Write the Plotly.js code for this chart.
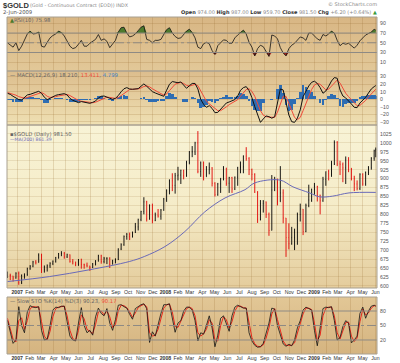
<!DOCTYPE html>
<html><head><meta charset="utf-8">
<script src="https://cdn.plot.ly/plotly-3.0.1.min.js"></script>
<style>
html,body{margin:0;padding:0;background:#fff;}
#wrap{position:relative;width:400px;height:363px;overflow:hidden;}
#bg{position:absolute;left:7px;top:17px;width:370px;height:337px;
background:linear-gradient(to bottom,#d8b684 0px,#e2c898 54px,#dcbd8d 54px,#efe0b3 108px,#f8f3d6 108px,#f5ecc8 190px,#e4cc9c 271px,#ffffff 271px,#ffffff 280px,#e2c796 280px,#d5b480 337px);}
#chart{position:absolute;left:0;top:0;width:400px;height:363px;}
</style></head>
<body><div id="wrap"><div id="bg"></div><div id="chart"></div></div>
<script>
// ---- weekly sample dates (Fridays) ----
const dates = [
'2006-12-08','2006-12-15','2006-12-22','2006-12-29',
'2007-01-05','2007-01-12','2007-01-19','2007-01-26','2007-02-02','2007-02-09','2007-02-16','2007-02-23','2007-03-02','2007-03-09','2007-03-16','2007-03-23','2007-03-30','2007-04-06','2007-04-13','2007-04-20','2007-04-27','2007-05-04','2007-05-11','2007-05-18','2007-05-25','2007-06-01','2007-06-08','2007-06-15','2007-06-22','2007-06-29','2007-07-06','2007-07-13','2007-07-20','2007-07-27','2007-08-03','2007-08-10','2007-08-17','2007-08-24','2007-08-31','2007-09-07','2007-09-14','2007-09-21','2007-09-28','2007-10-05','2007-10-12','2007-10-19','2007-10-26','2007-11-02','2007-11-09','2007-11-16','2007-11-23','2007-11-30','2007-12-07','2007-12-14','2007-12-21','2007-12-28',
'2008-01-04','2008-01-11','2008-01-18','2008-01-25','2008-02-01','2008-02-08','2008-02-15','2008-02-22','2008-02-29','2008-03-07','2008-03-14','2008-03-21','2008-03-28','2008-04-04','2008-04-11','2008-04-18','2008-04-25','2008-05-02','2008-05-09','2008-05-16','2008-05-23','2008-05-30','2008-06-06','2008-06-13','2008-06-20','2008-06-27','2008-07-04','2008-07-11','2008-07-18','2008-07-25','2008-08-01','2008-08-08','2008-08-15','2008-08-22','2008-08-29','2008-09-05','2008-09-12','2008-09-19','2008-09-26','2008-10-03','2008-10-10','2008-10-17','2008-10-24','2008-10-31','2008-11-07','2008-11-14','2008-11-21','2008-11-28','2008-12-05','2008-12-12','2008-12-19','2008-12-26',
'2009-01-02','2009-01-09','2009-01-16','2009-01-23','2009-01-30','2009-02-06','2009-02-13','2009-02-20','2009-02-27','2009-03-06','2009-03-13','2009-03-20','2009-03-27','2009-04-03','2009-04-10','2009-04-17','2009-04-24','2009-05-01','2009-05-08','2009-05-15','2009-05-22','2009-05-29','2009-06-02'];

// ---- $GOLD price (weekly close / high / low) ----
const firstOpen = 625;
const close = [629,628,622,635,609,629,631,648,655,667,
665,686,645,652,656,663,669,679,690,691,
681,687,668,664,659,673,660,658,656,651,
661,669,684,668,677,677,660,670,674,703,
715,738,744,738,749,765,785,808,835,787,
824,783,798,795,812,843,866,894,881,908,
910,923,908,945,975,975,1000,920,944,905,
925,930,887,855,885,898,930,887,903,871,
904,930,933,963,956,925,912,862,786,830,
835,800,755,868,888,835,860,790,735,718,
735,750,800,815,752,825,840,870,878,854,
838,898,920,913,941,1001,941,940,930,952,
925,900,885,872,912,885,917,930,957,978,
981.5];
const high = [640,634,628,638,640,632,635,651,658,670,
672,691,690,657,660,666,671,681,692,697,
695,690,688,675,668,675,676,662,665,656,
664,672,687,687,681,680,680,673,677,705,
719,741,748,749,752,776,788,810,848,838,
828,830,805,815,815,846,870,898,915,916,
933,925,925,950,977,991,1003,1033,948,948,
935,945,932,890,888,902,935,930,905,905,
906,933,948,965,988,960,928,915,865,840,
840,836,805,910,905,900,935,870,790,775,
765,760,805,830,815,830,883,872,888,880,
855,905,920,925,950,1007,1005,950,945,962,
960,930,908,895,915,915,920,935,960,981,
987];
const low = [622,616,612,620,603,605,620,628,645,652,
660,665,636,637,640,650,658,665,676,683,
676,678,665,660,655,656,648,648,652,642,
650,657,668,662,663,661,650,660,663,672,
700,712,729,728,735,748,755,781,800,780,
785,775,781,791,785,810,835,856,865,858,
895,885,898,905,940,960,966,915,905,895,
905,912,878,850,852,860,895,880,860,860,
868,880,915,915,950,910,895,860,776,783,
805,790,740,755,865,825,835,775,681,702,
715,700,715,780,742,750,820,835,855,836,
800,835,880,895,905,938,935,910,890,885,
918,895,865,867,868,880,880,910,925,950,
959.7];

// ---- MA(200) ----
const maDates = ['2006-12-08','2007-03-22','2007-06-28','2007-10-04','2007-11-10','2007-12-31','2008-02-18','2008-04-07','2008-05-27','2008-07-15','2008-08-08','2008-10-09','2008-11-10','2008-12-21','2009-01-15','2009-02-16','2009-03-28','2009-06-02'];
const maVals = [612,626,645,668,682,710,752,807,846,869,888,896,877,860,849,851,860,861.4];

// ---- RSI(10) ----
const rsi = [50,45,41,50,34,43,55,68,74,68,
69,72,43,41,51,60,65,68,74,71,
64,52,43,38,40,47,55,43,43,49,
53,57,67,55,58,53,40,47,55,72,
81,82,70,62,64,68,74,82,85,57,
55,50,55,55,57,68,77,81,70,63,
59,60,67,74,78,71,60,41,38,48,
51,48,34,26,44,49,56,55,49,49,
60,66,72,76,68,51,41,23,38,45,
42,32,22,66,64,58,40,29,23,38,
45,49,55,62,60,55,70,70,64,58,
55,67,64,68,74,70,55,44,49,47,
49,43,39,45,54,60,66,69,72,78,
75.98];

// ---- MACD(12,26,9) ----
const macd = [8,6.6,4,2.2,-0.4,-1,2.7,5.8,6.6,8.4,
9.3,10.6,8,2.7,-0.4,1.3,3.5,5.3,6.2,7,
7.5,5.8,1.3,-1.3,-3,-4.4,-3,-3.5,-4.4,-5.3,
-4,-2.2,1.8,4,4.4,3.1,1.3,0,1.3,4.9,
10,14,15.5,13.7,13.3,13.7,14.1,17.3,20.4,17.3,
13.3,10.2,8.4,7,5.3,4,12,20,23.5,23,
22,23,18,14.6,18,21,21,13.7,0,-6.6,
-10.6,-8.4,-12,-17.7,-17.3,-12.8,-9.3,-4.9,-3.5,-2.2,
-0.4,4.4,12,15.5,16.8,11.5,2.2,-9.7,-20.8,-30.5,
-26,-22,-23,-25,-23,-3,13.7,12.4,-4,-20.8,
-29.6,-30.5,-25,-14,3.5,11,17.7,22.5,24,21,
15.5,8,11,17.3,24.3,28.8,27.9,12.4,4.4,1.8,
-1.8,-6.2,-10.6,-11,-4.9,-0.9,2.7,8.4,13.7,16.8,
18.21];
const signal = [9,8,7,5.5,3.5,2,1.5,2.5,4,5.5,
7,8.5,9,7,4,2.5,2.5,3.5,4.5,5.5,
6.5,6.5,5,2.5,0.5,-1.5,-2.5,-3,-3.5,-4.3,
-4.5,-3.8,-2,0,2,2.8,2.5,1.6,1.2,2.3,
5,8.5,11.5,13,13.3,13.5,13.8,15,17,17.8,
16.5,14,11.5,9.5,7.5,5.8,7,11.5,16.5,20,
21.5,22.3,21,18.5,17.5,18.5,19.8,18,11.5,4,
-2.5,-6,-9,-12.5,-15,-15,-13,-10,-7,-5,
-3,-0.5,4,9,13,14,10.5,4,-5,-15,
-21,-23,-23.5,-24,-24,-17,-5,4,4,-5,
-16,-24,-27,-24,-15,-5,5,13,19,21,
20,15.5,12.5,13.5,17.5,22.5,25.5,21.5,14,8,
3.5,-1,-5.5,-8.5,-8,-5,-1.5,3,7.5,11.5,
13.411];

// ---- Slow STO %K(14) %D(3) ----
const stoK = [61,34,13,20,89,50,35,78,91,88,
87,89,40,20,22,50,82,88,87,90,
90,58,28,20,18,55,87,50,35,40,
30,68,86,75,70,85,55,40,62,92,
93,89,86,73,63,85,89,93,95,85,
15,37,28,52,75,93,93,95,66,36,
55,60,80,88,88,82,60,18,35,32,
50,70,45,6,30,65,70,55,38,70,
88,92,89,86,86,35,18,9,5,6,
13,32,55,86,84,50,30,12,7,11,
8,20,45,60,82,88,85,82,40,8,
45,85,88,87,89,60,20,25,48,60,
55,14,20,28,75,88,65,80,90,92,
90.23];
const stoD = [65,45,22,16,60,66,42,60,85,89,
88,88,58,28,20,38,68,85,88,89,
90,70,40,23,19,40,72,64,42,38,
33,52,78,80,72,80,68,46,52,80,
92,91,87,78,67,76,87,91,94,89,
35,28,30,42,64,86,93,94,78,48,
46,58,72,85,88,85,70,35,28,33,
42,62,55,20,18,50,68,62,45,58,
80,90,90,87,86,55,25,12,7,6,
10,24,45,74,85,62,38,18,9,9,
9,14,35,54,74,86,86,83,55,18,
30,70,86,88,88,70,35,22,38,56,
57,28,17,24,58,84,72,76,86,91,
90.17];

// ---- axis ticks ----
const monthTicks = ['2007-01-01','2007-02-01','2007-03-01','2007-04-01','2007-05-01','2007-06-01','2007-07-01','2007-08-01','2007-09-01','2007-10-01','2007-11-01','2007-12-01',
'2008-01-01','2008-02-01','2008-03-01','2008-04-01','2008-05-01','2008-06-01','2008-07-01','2008-08-01','2008-09-01','2008-10-01','2008-11-01','2008-12-01',
'2009-01-01','2009-02-01','2009-03-01','2009-04-01','2009-05-01','2009-06-01'];
const monthLabels = ['<b>2007</b>','Feb','Mar','Apr','May','Jun','Jul','Aug','Sep','Oct','Nov','Dec',
'<b>2008</b>','Feb','Mar','Apr','May','Jun','Jul','Aug','Sep','Oct','Nov','Dec',
'<b>2009</b>','Feb','Mar','Apr','May','Jun'];
const priceTicks = [600,625,650,675,700,725,750,775,800,825,850,875,900,925,950,975,1000,1025];
const macdTicks = [-30,-20,-10,0,10,20,30];
const rsiTicks = [10,30,50,70,90];
const stoTicks = [20,50,80];

// derived
const open = [firstOpen].concat(close.slice(0, -1));
const hist = macd.map((v, i) => v - signal[i]);
const rsiUp = rsi.map(v => Math.max(v, 70));
const rsiDn = rsi.map(v => Math.min(v, 30));
const c70 = rsi.map(() => 70), c30 = rsi.map(() => 30);

// pixel -> paper helpers (plot area x 7..377, y 17..354)
const fx = p => (p - 7) / 370;
const fy = p => (354 - p) / 337;

const FONT = 'DejaVu Sans, Verdana, sans-serif';
const AXF = {family: 'Liberation Sans, Arial, sans-serif', size: 5.2, color: '#555'};
const GRID = 'rgba(150,105,45,0.20)';
const XR = ['2006-12-07', '2009-06-05'];

const traces = [
  {x: dates, y: c70, xaxis: 'x', yaxis: 'y4', mode: 'lines', line: {width: 0}, hoverinfo: 'skip'},
  {x: dates, y: rsiUp, xaxis: 'x', yaxis: 'y4', mode: 'lines', line: {width: 0}, fill: 'tonexty', fillcolor: '#4d7a2c', hoverinfo: 'skip'},
  {x: dates, y: c30, xaxis: 'x', yaxis: 'y4', mode: 'lines', line: {width: 0}, hoverinfo: 'skip'},
  {x: dates, y: rsiDn, xaxis: 'x', yaxis: 'y4', mode: 'lines', line: {width: 0}, fill: 'tonexty', fillcolor: '#9c2a22', hoverinfo: 'skip'},
  {x: dates, y: rsi, xaxis: 'x', yaxis: 'y4', mode: 'lines', line: {color: '#111', width: 0.8}},
  {type: 'bar', x: dates, y: hist, xaxis: 'x', yaxis: 'y3', width: 7 * 86400000 * 0.95, marker: {color: '#2e6db3', line: {width: 0}}},
  {x: dates, y: signal, xaxis: 'x', yaxis: 'y3', mode: 'lines', line: {color: '#f04a3a', width: 1}},
  {x: dates, y: macd, xaxis: 'x', yaxis: 'y3', mode: 'lines', line: {color: '#111', width: 1}},
  {x: maDates, y: maVals, xaxis: 'x2', yaxis: 'y2', mode: 'lines', line: {color: '#6a6ab8', width: 1, shape: 'spline'}},
  {type: 'ohlc', x: dates, open: open, high: high, low: low, close: close, xaxis: 'x2', yaxis: 'y2', tickwidth: 0.2,
   increasing: {line: {color: '#000000', width: 0.9}}, decreasing: {line: {color: '#e00000', width: 0.9}}},
  {x: dates, y: stoD, xaxis: 'x', yaxis: 'y', mode: 'lines', line: {color: '#e8281c', width: 1}},
  {x: dates, y: stoK, xaxis: 'x', yaxis: 'y', mode: 'lines', line: {color: '#111', width: 0.8}}
];

const xBase = {type: 'date', range: XR, tickvals: monthTicks, ticktext: monthLabels, tickangle: 0,
  tickfont: {family: 'Liberation Sans, Arial, sans-serif', size: 5.2, color: '#333'},
  showgrid: true, gridcolor: GRID, gridwidth: 1, zeroline: false, ticks: '', ticklabelstandoff: 0,
  rangeslider: {visible: false}, fixedrange: true};
const yBase = {side: 'right', ticks: '', tickfont: AXF, zeroline: false, showline: false, fixedrange: true, ticklabelstandoff: 2};

const dSTO = [0, fy(297)], dPX = [fy(288), fy(125)], dMACD = [fy(125), fy(71)], dRSI = [fy(71), 1];

const layout = {
  width: 400, height: 363, margin: {l: 7, r: 23, t: 17, b: 9},
  paper_bgcolor: 'rgba(0,0,0,0)', plot_bgcolor: 'rgba(0,0,0,0)', showlegend: false, bargap: 0,
  font: {family: FONT, color: '#555'},
  xaxis: Object.assign({}, xBase, {anchor: 'y', domain: [0, 1]}),
  xaxis2: Object.assign({}, xBase, {anchor: 'y2', domain: [0, 1], matches: 'x'}),
  yaxis: Object.assign({}, yBase, {domain: dSTO, range: [-9, 109], tickvals: stoTicks, showgrid: false}),
  yaxis2: Object.assign({}, yBase, {domain: dPX, range: [594, 1050], tickvals: priceTicks, showgrid: true, gridcolor: 'rgba(150,105,45,0.15)'}),
  yaxis3: Object.assign({}, yBase, {domain: dMACD, range: [-34, 37.5], tickvals: macdTicks, showgrid: true, gridcolor: GRID}),
  yaxis4: Object.assign({}, yBase, {domain: dRSI, range: [-8, 103], tickvals: rsiTicks, showgrid: true, gridcolor: GRID}),
  shapes: [
    {type: 'line', xref: 'paper', x0: 0, x1: 1, yref: 'y4', y0: 70, y1: 70, line: {color: '#8e8a84', width: 1}},
    {type: 'line', xref: 'paper', x0: 0, x1: 1, yref: 'y4', y0: 30, y1: 30, line: {color: '#8e8a84', width: 1}},
    {type: 'line', xref: 'paper', x0: 0, x1: 1, yref: 'y4', y0: 50, y1: 50, line: {color: '#8e8a84', width: 1, dash: 'dashdot'}},
    {type: 'line', xref: 'paper', x0: 0, x1: 1, yref: 'y', y0: 80, y1: 80, line: {color: '#8e8a84', width: 1}},
    {type: 'line', xref: 'paper', x0: 0, x1: 1, yref: 'y', y0: 20, y1: 20, line: {color: '#8e8a84', width: 1}},
    {type: 'line', xref: 'paper', x0: 0, x1: 1, yref: 'y', y0: 50, y1: 50, line: {color: '#8e8a84', width: 1, dash: 'dashdot'}},
    {type: 'rect', xref: 'paper', yref: 'paper', x0: 0, x1: 1, y0: dRSI[0], y1: dRSI[1], line: {color: '#a8a090', width: 1}},
    {type: 'rect', xref: 'paper', yref: 'paper', x0: 0, x1: 1, y0: dMACD[0], y1: dMACD[1], line: {color: '#a8a090', width: 1}},
    {type: 'rect', xref: 'paper', yref: 'paper', x0: 0, x1: 1, y0: dPX[0], y1: dPX[1], line: {color: '#a8a090', width: 1}},
    {type: 'rect', xref: 'paper', yref: 'paper', x0: 0, x1: 1, y0: dSTO[0], y1: dSTO[1], line: {color: '#a8a090', width: 1}}
  ],
  annotations: [
    {text: '<b>$GOLD</b>', x: fx(1), y: fy(5.5), xref: 'paper', yref: 'paper', xanchor: 'left', yanchor: 'middle', showarrow: false, font: {family: 'Liberation Sans, Arial, sans-serif', size: 7.5, color: '#333'}},
    {text: '(Gold - Continuous Contract (EOD)) INDX', x: fx(28), y: fy(5.5), xref: 'paper', yref: 'paper', xanchor: 'left', yanchor: 'middle', showarrow: false, font: {family: FONT, size: 4.8, color: '#888'}},
    {text: '© StockCharts.com', x: fx(379), y: fy(4.5), xref: 'paper', yref: 'paper', xanchor: 'right', yanchor: 'middle', showarrow: false, font: {family: FONT, size: 5, color: '#888'}},
    {text: '2-Jun-2009', x: fx(1), y: fy(12), xref: 'paper', yref: 'paper', xanchor: 'left', yanchor: 'middle', showarrow: false, font: {family: FONT, size: 5.3, color: '#555'}},
    {text: '<b>Open</b> <span style="color:#888">974.00</span> <b>High</b> <span style="color:#888">987.00</span> <b>Low</b> <span style="color:#888">959.70</span> <b>Close</b> <span style="color:#888">981.50</span> <b>Chg</b> <span style="color:#888">+6.20 (+0.64%)</span> <span style="color:#3a9a3a">▲</span>',
     x: fx(379), y: fy(12), xref: 'paper', yref: 'paper', xanchor: 'right', yanchor: 'middle', showarrow: false, font: {family: FONT, size: 5, color: '#333'}},
    {text: '<span style="color:#4d7a2c">▲</span>RSI(10) 75.98', x: fx(8), y: fy(20.5), xref: 'paper', yref: 'paper', xanchor: 'left', yanchor: 'middle', showarrow: false, font: {family: FONT, size: 5.3, color: '#666'}},
    {text: '— MACD(12,26,9) 18.210, <span style="color:#f04a3a">13.411</span>, <span style="color:#3a7fc8">4.799</span>', x: fx(8), y: fy(75), xref: 'paper', yref: 'paper', xanchor: 'left', yanchor: 'middle', showarrow: false, font: {family: FONT, size: 5.3, color: '#666'}},
    {text: '▪$GOLD (Daily) 981.50', x: fx(8), y: fy(134), xref: 'paper', yref: 'paper', xanchor: 'left', yanchor: 'middle', showarrow: false, font: {family: FONT, size: 5.3, color: '#666'}},
    {text: '—MA(200) 861.39', x: fx(8), y: fy(139.5), xref: 'paper', yref: 'paper', xanchor: 'left', yanchor: 'middle', showarrow: false, font: {family: FONT, size: 4.6, color: '#6a6ab8'}},
    {text: '— Slow STO %K(14) %D(3) 90.23, <span style="color:#f04a3a">90.17</span>', x: fx(8), y: fy(301), xref: 'paper', yref: 'paper', xanchor: 'left', yanchor: 'middle', showarrow: false, font: {family: FONT, size: 5.3, color: '#666'}}
  ]
};

Plotly.newPlot('chart', traces, layout, {staticPlot: true, displayModeBar: false});
</script>
</body></html>
